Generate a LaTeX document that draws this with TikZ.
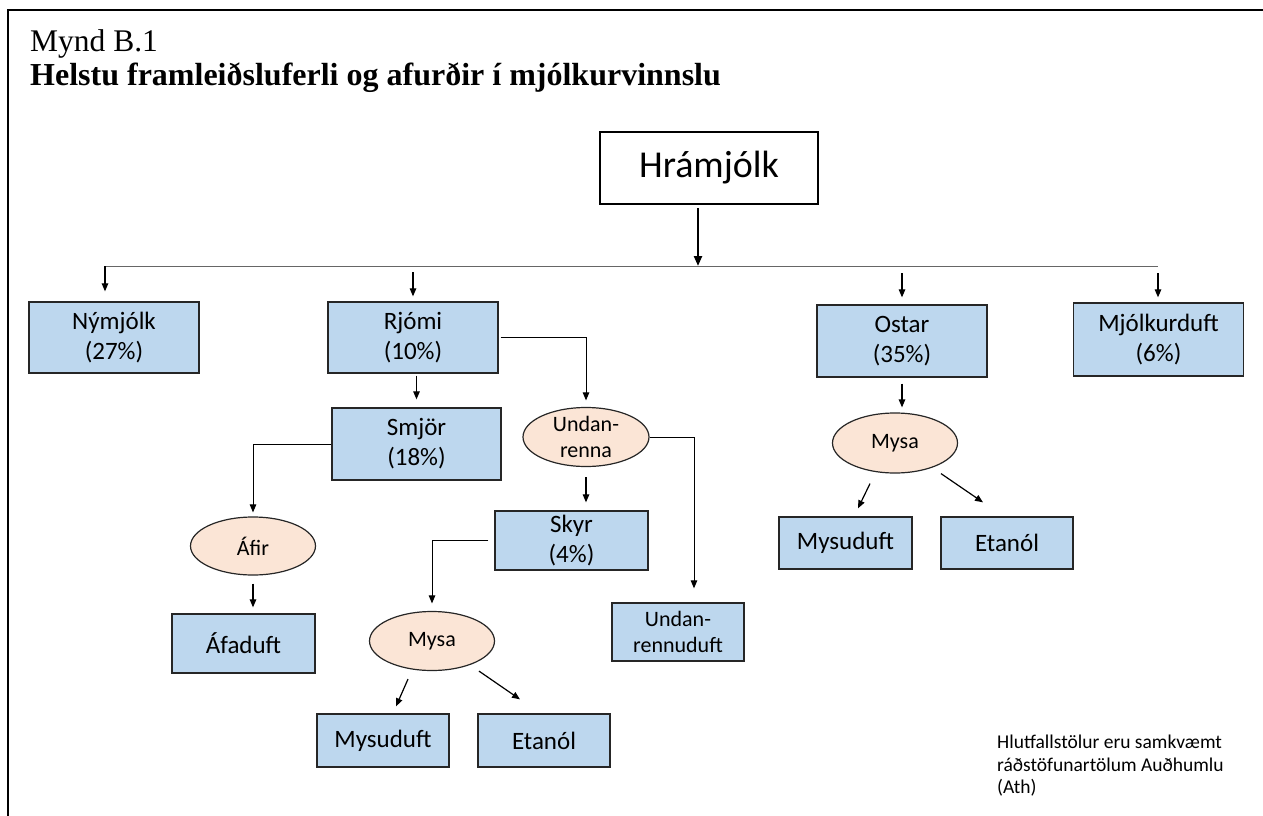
\documentclass[tikz,border=0pt]{standalone}
\usepackage{fontspec}
\setmainfont{Carlito}
\newfontfamily\serifttl{Liberation Serif}
\usepackage{tikz}
\usetikzlibrary{arrows.meta,shapes.geometric}
\definecolor{prodblue}{HTML}{BDD7EE}
\definecolor{sidepeach}{HTML}{FBE5D6}

\begin{document}
\begin{tikzpicture}[x=1pt,y=-1pt,
    prod/.style={rectangle,draw=black!85,line width=1.3pt,fill=prodblue,align=center,
      inner sep=0pt,font=\fontsize{25}{30}\selectfont},
    side/.style={ellipse,draw=black!85,line width=1.2pt,fill=sidepeach,align=center,
      inner sep=0pt,font=\fontsize{22}{26}\selectfont},
    arr/.style={-{Triangle[length=8pt,width=6.5pt]},line width=1.2pt},
    link/.style={line width=1pt,black!60}]
    \useasboundingbox (0,0) rectangle (1263,816);
    \draw[line width=2pt] (8,816) -- (8,10) -- (1263,10);
    % title
    \node [anchor=base west,inner sep=0pt,font=\serifttl\fontsize{31.5}{36}\selectfont] (ttl) at (30,52) {Mynd B.1};
    \node [anchor=base west,inner sep=0pt,font=\serifttl\bfseries\fontsize{32}{36}\selectfont] (subttl) at (30,85)
      {Helstu framleiðsluferli og afurðir í mjólkurvinnslu};
    % top level
    \node [draw,line width=2.8pt,minimum width=218pt,minimum height=72pt,
      font=\fontsize{38}{44}\selectfont] (hram) at (709,168) {Hrámjólk};
    \coordinate (bus) at (698,266);
    \coordinate (busL) at (105,266);
    \coordinate (busR) at (1158,266);
    \node [prod,minimum width=170pt,minimum height=71pt] (nym) at (114,337.5) {Nýmjólk\\(27\%)};
    \node [prod,minimum width=170pt,minimum height=71pt] (rjomi) at (413,337.5) {Rjómi\\(10\%)};
    \node [prod,minimum width=170pt,minimum height=72pt] (ostar) at (902,341) {Ostar\\(35\%)};
    \node [prod,minimum width=170pt,minimum height=73pt] (mjolk) at (1158.5,339.5) {Mjólkurduft\\(6\%)};
    % under Rjomi
    \node [prod,minimum width=169pt,minimum height=72pt] (smjor) at (416.5,444) {Smjör\\(18\%)};
    \node [side,minimum width=126pt,minimum height=59pt] (undan) at (586,437) {Undan-\\renna};
    \node [side,minimum width=125pt,minimum height=58pt] (afir) at (253,546) {Áfir};
    \node [prod,minimum width=143pt,minimum height=59pt] (afaduft) at (243.5,643.5) {Áfaduft};
    \node [prod,minimum width=153pt,minimum height=59pt] (skyr) at (571.5,540.5) {Skyr\\(4\%)};
    \node [prod,minimum width=132pt,minimum height=58pt,font=\fontsize{22}{26}\selectfont]
      (undanduft) at (678,632) {Undan-\\rennuduft};
    \node [side,minimum width=125pt,minimum height=59pt] (mysaA) at (432,641) {Mysa};
    \node [prod,minimum width=132pt,minimum height=53pt] (mysudA) at (383,740.5) {Mysuduft};
    \node [prod,minimum width=132pt,minimum height=53pt] (etanA) at (544,740.5) {Etanól};
    % under Ostar
    \node [side,minimum width=125pt,minimum height=60pt] (mysaB) at (895,443) {Mysa};
    \node [prod,minimum width=133pt,minimum height=52pt] (mysudB) at (845.5,543) {Mysuduft};
    \node [prod,minimum width=132pt,minimum height=52pt] (etanB) at (1007,543) {Etanól};
    \node [anchor=north west,align=left,inner sep=0pt,font=\fontsize{19.5}{22.5}\selectfont]
      (note) at (997,735) {Hlutfallstölur eru samkvæmt\\ráðstöfunartölum Auðhumlu\\(Ath)};

    \draw[-{Triangle[length=10pt,width=8pt]},line width=2.2pt,shorten <=3pt] (hram.south -| bus) -- (bus);
    \draw[link] (busL) -- (busR);
    \draw[arr,shorten >=10pt] (busL) -- (busL |- nym.north);
    \draw[arr,shorten <=6pt,shorten >=5pt] (bus -| rjomi.north) -- (rjomi.north);
    \draw[arr,shorten <=7pt,shorten >=7pt] (bus -| ostar.north) -- (ostar.north);
    \draw[arr,shorten <=7pt,shorten >=5pt] (busR) -- (busR |- mjolk.north);

    \draw[arr,line width=1pt,shorten <=2pt,shorten >=6.5pt] (rjomi.east) -| (undan.north);
    \draw[arr,shorten <=2pt,shorten >=8pt] (smjor.north |- rjomi.south) -- (smjor.north);
    \draw[arr,line width=1pt,shorten >=4pt] (smjor.west) -| (afir.north);
    \draw[arr,shorten <=8pt,shorten >=6pt] (afir.south) -- (afir.south |- afaduft.north);
    \draw[arr,shorten <=10pt,shorten >=8pt] (undan.south) -- (undan.south |- skyr.north);
    \draw[arr,line width=1pt,shorten >=14pt] (undan.east) -| ([xshift=16pt]undanduft.north);
    \draw[arr,line width=1pt,shorten <=6pt,shorten >=7.5pt] (skyr.west) -| (mysaA.north);
    \draw[arr] ([xshift=-24pt,yshift=-8pt]mysaA.south) -- ([xshift=13pt,yshift=7pt]mysudA.north);
    \draw[arr] ([xshift=47pt]mysaA.south) -- ([xshift=-24pt,yshift=14pt]etanA.north);

    \draw[arr,shorten <=6pt,shorten >=5pt] (ostar.south) -- (ostar.south |- mysaB.north);
    \draw[arr] ([xshift=-25pt,yshift=-10pt]mysaB.south) -- ([xshift=12.5pt,yshift=8pt]mysudB.north);
    \draw[arr] ([xshift=46pt]mysaB.south) -- ([xshift=-24pt,yshift=14pt]etanB.north);
\end{tikzpicture}
\end{document}
